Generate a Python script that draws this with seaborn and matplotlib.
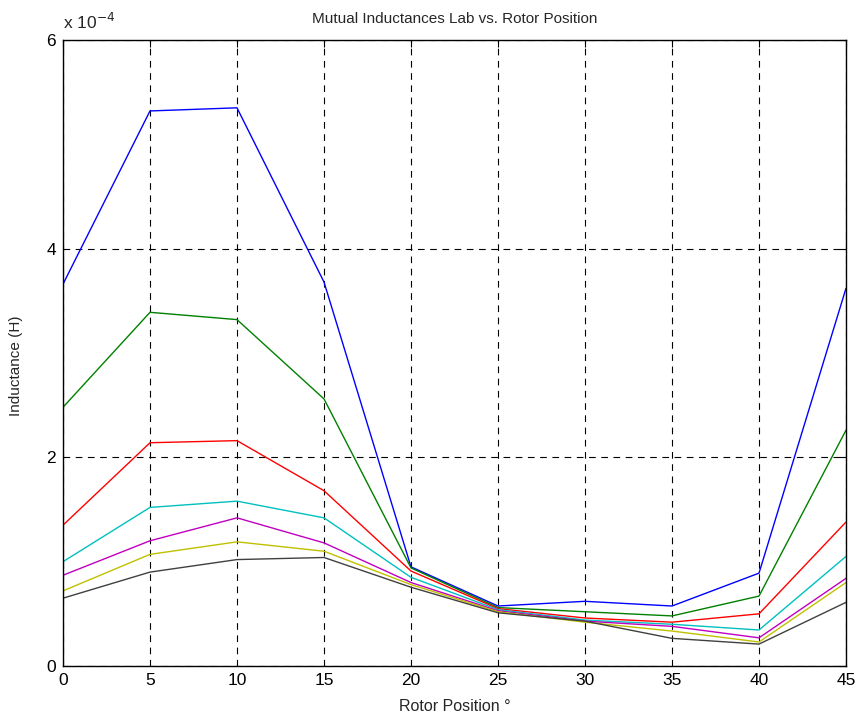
import numpy as np
import pandas as pd
import matplotlib
matplotlib.use("Agg")
import matplotlib.pyplot as plt
import seaborn as sns

rotor_position = [0, 5, 10, 15, 20, 25, 30, 35, 40, 45]
# inductance values in units of 1e-4 H
blue    = [3.66, 5.32, 5.35, 3.68, 0.95, 0.575, 0.62, 0.575, 0.89, 3.62]
green   = [2.48, 3.39, 3.32, 2.56, 0.94, 0.56, 0.52, 0.48, 0.67, 2.26]
red     = [1.35, 2.14, 2.16, 1.68, 0.91, 0.55, 0.46, 0.42, 0.50, 1.38]
cyan    = [1.00, 1.52, 1.58, 1.42, 0.85, 0.54, 0.44, 0.40, 0.345, 1.05]
magenta = [0.87, 1.20, 1.42, 1.18, 0.80, 0.53, 0.43, 0.38, 0.27, 0.84]
yellow  = [0.72, 1.07, 1.19, 1.10, 0.78, 0.52, 0.42, 0.335, 0.23, 0.80]
black   = [0.65, 0.90, 1.02, 1.04, 0.755, 0.51, 0.43, 0.265, 0.21, 0.61]

series = {"b": blue, "g": green, "r": red, "c": cyan, "m": magenta, "y": yellow, "k": black}
colors = {"b": "#0000FF", "g": "#008000", "r": "#FF0000", "c": "#00C0C0",
          "m": "#C000C0", "y": "#C0C000", "k": "#404040"}

rows = []
for name, vals in series.items():
    for x, v in zip(rotor_position, vals):
        rows.append({"pos": x, "L": v * 1e-4, "s": name})
df = pd.DataFrame(rows)

sns.set_style("white")
plt.rcParams["font.family"] = ["Liberation Sans", "DejaVu Sans"]

fig = plt.figure(figsize=(8.58, 7.17), dpi=100)
ax = fig.add_axes([63/858, 51/717, 783/858, 626/717])

sns.lineplot(data=df, x="pos", y="L", hue="s", palette=colors, legend=False,
             ax=ax, linewidth=1.0, sort=False)

ax.set_xlim(0, 45)
ax.set_ylim(0, 6e-4)
ax.set_xticks(rotor_position)
ax.set_yticks([0, 2e-4, 4e-4, 6e-4])
ax.set_yticklabels(["0", "2", "4", "6"])
ax.set_xticklabels([str(v) for v in rotor_position])
ax.tick_params(direction="in", labelsize=12.5, top=True, right=True, length=5, width=0.8,
               colors="black", pad=5)
ax.grid(True, linestyle=(0, (6, 5)), color="black", linewidth=0.8)
for sp in ax.spines.values():
    sp.set_color("black")
    sp.set_linewidth(1.0)

ax.set_title("Mutual Inductances Lab vs. Rotor Position", fontsize=11, pad=12)
ax.set_xlabel("Rotor Position °", fontsize=11.5)
ax.xaxis.set_label_coords(0.5, -0.052)
ax.set_ylabel("Inductance (H)", fontsize=11)
ax.yaxis.set_label_coords(-0.06, 0.48)
ax.yaxis.label.set_verticalalignment("center")
ax.text(0.0, 1.012, r"x 10$^{-4}$", transform=ax.transAxes, fontsize=12.5, ha="left", va="bottom")

fig.savefig("out.png", dpi=100)
